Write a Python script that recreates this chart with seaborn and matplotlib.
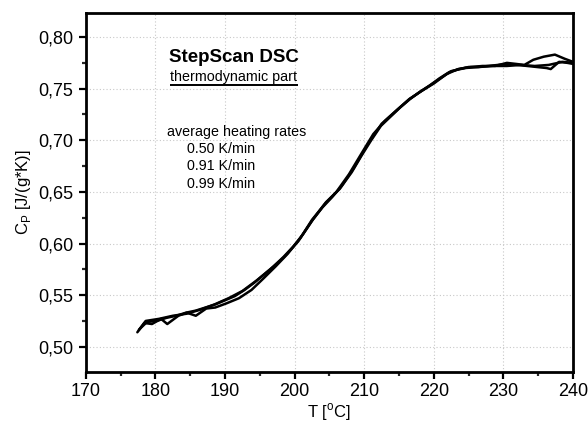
import numpy as np
import pandas as pd
import matplotlib
matplotlib.use("Agg")
import matplotlib.pyplot as plt
from matplotlib.ticker import FuncFormatter, MultipleLocator
import seaborn as sns

# ---- data -------------------------------------------------------------
rates = ["0.50 K/min", "0.91 K/min", "0.99 K/min"]

t_050 = [177.6, 178.6, 180.5, 182.5, 184.5, 186.5, 188.5, 190.5, 192.5, 194.5,
         196.5, 198.5, 200.5, 202.5, 204.5, 206.5, 208.5, 210.5, 212.5, 214.5,
         216.5, 218.5, 220.5, 222.5, 224.5, 226.5, 228.5, 230.5, 232.5, 234.5,
         236.5, 238.5, 240.0]
cp_050 = [0.516, 0.525, 0.527, 0.530, 0.532, 0.536, 0.541, 0.547, 0.554, 0.564,
          0.575, 0.587, 0.602, 0.622, 0.640, 0.653, 0.673, 0.696, 0.716, 0.728,
          0.740, 0.749, 0.758, 0.767, 0.770, 0.771, 0.772, 0.772, 0.773, 0.772,
          0.773, 0.776, 0.775]

t_091 = [177.4, 178.4, 179.5, 180.8, 181.7, 183.3, 184.5, 185.8, 187.3, 188.6,
         190.2, 192.0, 193.8, 195.5, 197.3, 199.0, 200.8, 202.5, 204.3, 206.0,
         207.8, 209.5, 211.3, 213.0, 214.8, 216.5, 218.3, 220.0, 221.8, 223.5,
         225.3, 227.0, 228.8, 230.5, 231.8, 233.0, 234.3, 235.8, 237.4, 238.8,
         240.0]
cp_091 = [0.514, 0.523, 0.522, 0.527, 0.522, 0.530, 0.533, 0.530, 0.537, 0.538,
          0.542, 0.547, 0.555, 0.566, 0.578, 0.590, 0.605, 0.623, 0.638, 0.650,
          0.667, 0.686, 0.706, 0.719, 0.730, 0.740, 0.748, 0.755, 0.764, 0.769,
          0.771, 0.772, 0.772, 0.775, 0.774, 0.773, 0.778, 0.781, 0.783, 0.779,
          0.776]

t_099 = [177.7, 178.8, 180.2, 181.6, 183.0, 184.4, 185.8, 187.2, 188.6, 190.0,
         191.4, 192.8, 194.2, 195.6, 197.0, 198.4, 199.8, 201.2, 202.6, 204.0,
         205.4, 206.8, 208.2, 209.6, 211.0, 212.4, 213.8, 215.2, 216.6, 218.0,
         219.4, 220.8, 222.2, 223.6, 225.0, 226.4, 227.8, 229.2, 230.6, 232.0,
         233.4, 234.8, 236.2, 236.8, 238.0, 239.2, 240.0]
cp_099 = [0.517, 0.524, 0.525, 0.528, 0.530, 0.533, 0.535, 0.538, 0.541, 0.545,
          0.549, 0.555, 0.562, 0.570, 0.578, 0.587, 0.597, 0.609, 0.623, 0.635,
          0.645, 0.656, 0.669, 0.685, 0.700, 0.714, 0.723, 0.732, 0.740, 0.747,
          0.753, 0.760, 0.766, 0.769, 0.771, 0.771, 0.772, 0.773, 0.774, 0.773,
          0.772, 0.771, 0.770, 0.769, 0.776, 0.775, 0.774]

x_ticks = [170, 180, 190, 200, 210, 220, 230, 240]
y_ticks = [0.50, 0.55, 0.60, 0.65, 0.70, 0.75, 0.80]

frames = []
for r, t, c in zip(rates, [t_050, t_091, t_099], [cp_050, cp_091, cp_099]):
    frames.append(pd.DataFrame({"T": t, "Cp": c, "rate": r}))
df = pd.concat(frames, ignore_index=True)

# ---- plot -------------------------------------------------------------
sns.set_theme(style="white")
plt.rcParams["font.family"] = ["Liberation Sans", "DejaVu Sans"]
plt.rcParams["text.color"] = "black"
plt.rcParams["axes.labelcolor"] = "black"

fig = plt.figure(figsize=(5.88, 4.24), dpi=100)
ax = fig.add_axes([0.146, 0.1226, 0.8285, 0.8467])

for r in rates:
    sns.lineplot(data=df[df["rate"] == r], x="T", y="Cp", color="black",
                 linewidth=1.8, sort=False, estimator=None, ax=ax, legend=False)

ax.set_xlim(170, 240)
ax.set_ylim(0.4755, 0.8233)
ax.set_xticks(x_ticks)
ax.set_yticks(y_ticks)
ax.xaxis.set_minor_locator(MultipleLocator(5))
ax.yaxis.set_minor_locator(MultipleLocator(0.025))
ax.yaxis.set_major_formatter(FuncFormatter(lambda v, p: f"{v:.2f}".replace(".", ",")))

ax.grid(True, which="major", linestyle=(0, (1, 2)), color="#c8c8c8", linewidth=0.8)
for s in ax.spines.values():
    s.set_linewidth(2)
    s.set_color("black")

ax.tick_params(axis="both", which="major", direction="out", length=5, width=1.6,
               labelsize=13, colors="black", left=True, bottom=True, pad=3)
ax.tick_params(axis="y", which="major", pad=4)
ax.tick_params(axis="both", which="minor", direction="out", length=3, width=1.6,
               left=True, bottom=True)

ax.set_xlabel(r"T [$^{\mathregular{o}}$C]", fontsize=12, labelpad=1, color="black")
ax.set_ylabel(r"C$_{\mathregular{P}}$ [J/(g*K)]", fontsize=12, labelpad=4, color="black")

# annotations
ax.text(0.304, 0.877, "StepScan DSC", transform=ax.transAxes, fontsize=13.5,
        fontweight="bold", ha="center", va="center", color="black")
ax.text(0.304, 0.822, "thermodynamic part", transform=ax.transAxes, fontsize=10.3,
        ha="center", va="center", color="black")
ax.plot([0.1725, 0.435], [0.799, 0.799], transform=ax.transAxes,
        color="black", linewidth=1.4, solid_capstyle="butt")
ax.text(0.166, 0.668, "average heating rates", transform=ax.transAxes,
        fontsize=10.3, ha="left", va="center", color="black")
for i, r in enumerate(rates):
    ax.text(0.207, 0.621 - i * 0.0485, r, transform=ax.transAxes,
            fontsize=10.3, ha="left", va="center", color="black")

fig.savefig("out.png", dpi=100)
